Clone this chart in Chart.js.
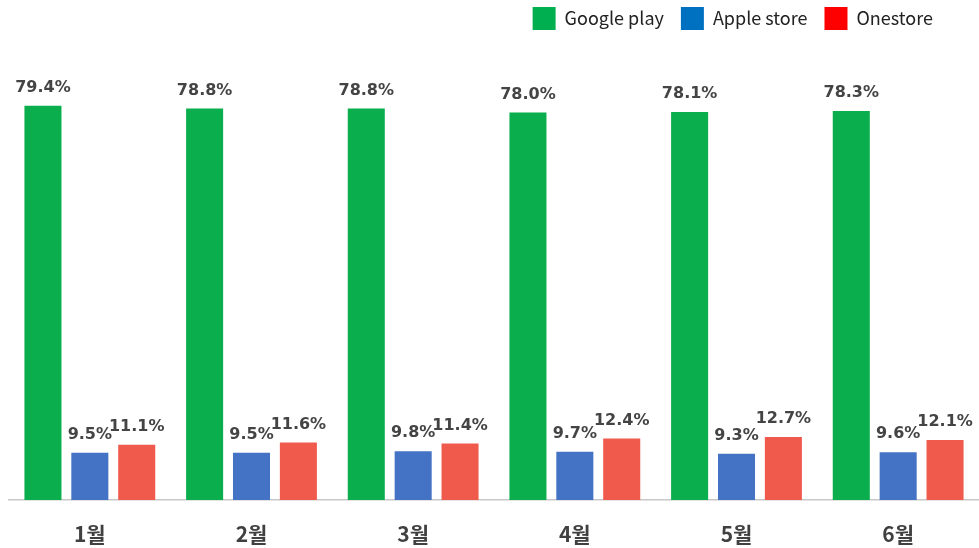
<!DOCTYPE html>
<html>
<head>
<meta charset="utf-8">
<script src="https://cdn.jsdelivr.net/npm/chart.js@4"></script>
<style>
    html, body { margin: 0; padding: 0; background: #fff; }
    #wrap { width: 979px; height: 548px; }
</style>
</head>
<body>
<div id="wrap"><canvas id="chart"></canvas></div>
<script>
const months = ['1월', '2월', '3월', '4월', '5월', '6월'];
const googlePlay = [79.4, 78.8, 78.8, 78.0, 78.1, 78.3];
const appleStore = [9.5, 9.5, 9.8, 9.7, 9.3, 9.6];
const oneStore = [11.1, 11.6, 11.4, 12.4, 12.7, 12.1];

// legend swatches use different colours than the bars in the original
const legendColors = ['#00b050', '#0070c0', '#ff0000'];

// draws the percent text above each bar
const valueLabels = {
    id: 'valueLabels',
    afterDatasetsDraw(chart) {
        const ctx = chart.ctx;
        ctx.save();
        ctx.font = 'bold 16px "DejaVu Sans", sans-serif';
        ctx.fillStyle = '#444444';
        ctx.textAlign = 'center';
        ctx.textBaseline = 'bottom';
        chart.data.datasets.forEach((ds, i) => {
            chart.getDatasetMeta(i).data.forEach((bar, j) => {
                ctx.fillText(ds.data[j].toFixed(1) + '%', bar.x, bar.y - 10);
            });
        });
        ctx.restore();
    }
};

// move the legend up and away from the right edge
const legendShift = {
    id: 'legendShift',
    afterLayout(chart) {
        const lg = chart.legend;
        if (lg && lg.lineWidths) {
            lg.lineWidths[0] += 29;
            lg.top -= 10;
            lg.bottom -= 10;
        }
    }
};

new Chart(document.getElementById('chart'), {
    type: 'bar',
    data: {
        labels: months,
        datasets: [
            { label: 'Google play', data: googlePlay, backgroundColor: '#0bae4c' },
            { label: 'Apple store', data: appleStore, backgroundColor: '#4472c4' },
            { label: 'Onestore', data: oneStore, backgroundColor: '#f05a4c' },
        ]
    },
    options: {
        responsive: true,
        maintainAspectRatio: false,
        animation: false,
        layout: { padding: { left: 9, right: 0, top: 0, bottom: 0 } },
        datasets: {
            bar: { categoryPercentage: 0.87, barPercentage: 0.79 }
        },
        plugins: {
            legend: {
                position: 'top',
                align: 'end',
                labels: {
                    boxWidth: 23,
                    boxHeight: 23,
                    padding: 17,
                    color: '#222222',
                    font: { family: '"Noto Sans CJK KR", sans-serif', size: 18 },
                    generateLabels(chart) {
                        return chart.data.datasets.map((ds, i) => ({
                            text: ds.label,
                            fillStyle: legendColors[i],
                            strokeStyle: legendColors[i],
                            lineWidth: 0,
                            datasetIndex: i,
                            fontColor: '#222222'
                        }));
                    }
                }
            },
            tooltip: { enabled: false }
        },
        scales: {
            x: {
                grid: { display: false },
                border: { display: true, color: '#c8c8c8', width: 1.5 },
                ticks: {
                    padding: 13,
                    color: '#404040',
                    font: { family: '"Noto Sans CJK KR", sans-serif', size: 21, weight: 'bold' }
                },
                afterFit(scale) {
                    scale.height = 48;
                }
            },
            y: {
                display: false,
                min: 0,
                max: 90.6
            }
        }
    },
    plugins: [valueLabels, legendShift]
});
</script>
</body>
</html>
